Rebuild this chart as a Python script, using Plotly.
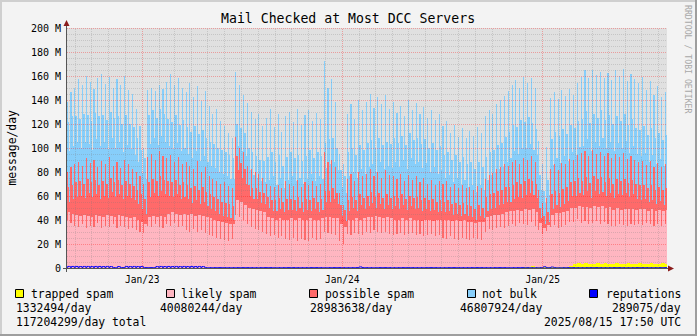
import plotly.graph_objects as go
import pandas as pd
import math

# ---------------- data (million messages/day, one value per week) ----------------
# each week is drawn as three columns: mid-week peak, rest of the working week, weekend
week_start = "2022-08-15"

likely_base = [
    46, 45, 44, 43, 44, 43, 42, 44, 43, 42,
    44, 43, 42, 44, 43, 42, 41, 42, 40, 38,
    36, 42, 43, 42, 43, 42, 45, 46, 45, 44,
    45, 44, 45, 43, 44, 43, 42, 41, 40, 39,
    38, 37, 36, 36, 56, 55, 52, 50, 49, 48,
    47, 46, 42, 41, 40, 41, 40, 40, 41, 40,
    41, 40, 40, 41, 40, 40, 41, 42, 42, 41,
    41, 36, 34, 40, 40, 41, 40, 41, 42, 42,
    43, 42, 41, 42, 41, 40, 40, 41, 40, 41,
    40, 40, 39, 40, 40, 39, 40, 40, 40, 40,
    39, 40, 39, 40, 38, 38, 37, 38, 38, 42,
    43, 44, 44, 45, 46, 47, 47, 48, 47, 48,
    47, 48, 46, 37, 33, 35, 44, 45, 45, 46,
    47, 48, 47, 48, 47, 47, 46, 48, 47, 48,
    46, 47, 45, 46, 45, 46, 45, 46, 45, 45,
    46, 44, 45, 44, 45, 44, 45,
]
likely_peak = [
    40, 37, 35, 34, 36, 33, 35, 34, 37, 33,
    35, 34, 36, 33, 35, 34, 32, 33, 31, 30,
    29, 35, 34, 36, 34, 33, 36, 35, 37, 34,
    35, 31, 30, 32, 30, 31, 29, 27, 26, 25,
    24, 23, 22, 24, 44, 42, 40, 36, 34, 32,
    31, 30, 28, 26, 27, 25, 26, 24, 23, 25,
    22, 24, 23, 22, 25, 23, 24, 30, 29, 28,
    27, 22, 20, 28, 27, 29, 28, 27, 30, 29,
    31, 30, 29, 30, 28, 27, 28, 29, 27, 28,
    29, 27, 28, 26, 27, 28, 26, 27, 25, 24,
    26, 24, 23, 25, 24, 23, 25, 24, 23, 30,
    32, 31, 33, 34, 33, 35, 36, 35, 37, 36,
    35, 37, 34, 31, 28, 30, 34, 35, 33, 34,
    35, 36, 35, 37, 34, 35, 33, 34, 35, 33,
    34, 33, 32, 31, 33, 32, 31, 33, 32, 33,
    32, 34, 33, 32, 33, 31, 33,
]
possible_peak = [
    40, 47, 51, 54, 49, 58, 52, 56, 47, 56,
    51, 58, 49, 55, 48, 56, 54, 49, 49, 46,
    41, 57, 61, 54, 63, 60, 55, 59, 51, 58,
    51, 57, 55, 50, 59, 49, 55, 49, 48, 47,
    46, 48, 46, 42, 65, 58, 56, 49, 48, 48,
    47, 45, 42, 42, 40, 44, 40, 48, 47, 43,
    51, 43, 48, 47, 47, 45, 46, 66, 59, 62,
    57, 40, 32, 46, 51, 43, 52, 49, 48, 53,
    45, 50, 46, 51, 49, 49, 46, 49, 45, 49,
    44, 49, 43, 49, 43, 45, 43, 45, 45, 48,
    41, 46, 43, 44, 42, 44, 40, 44, 43, 44,
    45, 48, 49, 50, 53, 50, 52, 55, 49, 55,
    54, 55, 53, 33, 26, 28, 48, 51, 48, 53,
    51, 53, 52, 53, 58, 59, 57, 61, 56, 60,
    55, 59, 56, 60, 56, 60, 56, 57, 54, 51,
    54, 48, 52, 49, 51, 49, 50,
]
possible_mid = [
    21, 24, 27, 29, 26, 31, 29, 29, 26, 30,
    26, 32, 29, 29, 26, 30, 29, 26, 25, 23,
    21, 29, 31, 30, 33, 31, 27, 25, 28, 25,
    26, 25, 21, 25, 21, 24, 21, 20, 19, 18,
    17, 17, 17, 15, 37, 32, 30, 19, 17, 18,
    16, 16, 17, 15, 16, 17, 15, 17, 16, 16,
    18, 15, 17, 15, 18, 15, 16, 22, 22, 25,
    21, 16, 14, 16, 19, 15, 21, 17, 18, 21,
    16, 20, 17, 19, 17, 20, 18, 20, 17, 19,
    18, 19, 17, 18, 16, 18, 15, 16, 15, 16,
    14, 14, 13, 14, 14, 13, 12, 14, 12, 17,
    18, 18, 20, 20, 21, 20, 22, 23, 23, 24,
    26, 23, 23, 12, 10, 11, 17, 19, 17, 19,
    20, 22, 22, 23, 22, 25, 21, 25, 23, 24,
    22, 24, 22, 24, 24, 25, 22, 24, 21, 20,
    20, 19, 20, 18, 19, 17, 18,
]
possible_low = [
    9, 12, 15, 17, 14, 19, 17, 17, 14, 18,
    14, 20, 17, 17, 14, 18, 17, 14, 13, 11,
    9, 17, 19, 18, 21, 19, 15, 13, 16, 13,
    14, 13, 9, 13, 9, 12, 9, 8, 7, 6,
    5, 5, 5, 4, 25, 20, 18, 10, 8, 9,
    7, 7, 8, 6, 7, 8, 6, 8, 7, 7,
    9, 6, 8, 6, 9, 6, 7, 13, 13, 16,
    12, 7, 5, 7, 10, 6, 12, 8, 9, 12,
    7, 11, 8, 10, 8, 11, 9, 11, 8, 10,
    9, 10, 8, 9, 7, 9, 6, 7, 6, 7,
    5, 5, 4, 5, 5, 4, 3, 5, 3, 5,
    6, 6, 8, 8, 9, 8, 10, 11, 11, 12,
    14, 11, 11, 4, 3, 3, 5, 7, 5, 7,
    8, 10, 10, 11, 10, 13, 9, 13, 11, 12,
    10, 12, 10, 12, 12, 13, 10, 12, 9, 8,
    8, 7, 8, 6, 7, 5, 6,
]
notbulk_peak = [
    58, 62, 64, 69, 67, 69, 68, 59, 74, 72,
    67, 67, 65, 69, 69, 70, 62, 63, 52, 42,
    30, 56, 55, 57, 55, 56, 64, 67, 64, 66,
    64, 58, 69, 60, 62, 59, 63, 59, 54, 60,
    52, 47, 44, 42, 54, 52, 48, 52, 48, 44,
    50, 43, 55, 64, 50, 59, 47, 54, 60, 53,
    59, 52, 56, 62, 50, 61, 54, 76, 62, 67,
    54, 33, 34, 54, 58, 52, 60, 55, 60, 63,
    57, 62, 61, 63, 55, 62, 55, 57, 54, 63,
    58, 61, 57, 59, 55, 58, 54, 56, 48, 50,
    45, 49, 43, 47, 42, 47, 45, 49, 46, 52,
    54, 49, 54, 56, 57, 62, 64, 66, 64, 67,
    64, 65, 62, 41, 32, 42, 59, 60, 59, 61,
    57, 58, 54, 60, 64, 67, 65, 67, 66, 67,
    65, 67, 65, 70, 67, 70, 65, 68, 68, 66,
    70, 63, 67, 60, 64, 59, 60,
]
notbulk_mid = [
    54, 57, 55, 52, 58, 53, 51, 56, 57, 55,
    53, 55, 54, 53, 51, 55, 50, 49, 43, 37,
    34, 56, 57, 53, 56, 55, 52, 50, 54, 50,
    52, 48, 47, 50, 46, 48, 45, 44, 44, 43,
    43, 42, 41, 40, 27, 29, 30, 31, 30, 27,
    27, 27, 33, 40, 32, 36, 30, 35, 39, 35,
    35, 34, 36, 42, 33, 41, 36, 40, 43, 42,
    38, 29, 28, 40, 41, 38, 41, 40, 44, 43,
    41, 46, 44, 44, 45, 48, 46, 49, 45, 52,
    48, 49, 47, 49, 44, 47, 43, 45, 39, 40,
    37, 40, 36, 38, 34, 37, 33, 36, 34, 33,
    35, 36, 38, 39, 42, 46, 50, 46, 53, 49,
    52, 48, 46, 28, 21, 27, 46, 49, 47, 50,
    44, 47, 44, 48, 52, 55, 50, 52, 51, 56,
    51, 53, 50, 53, 50, 54, 48, 51, 47, 46,
    49, 44, 48, 43, 45, 42, 44,
]
notbulk_low = [
    42, 44, 46, 40, 47, 41, 39, 46, 44, 45,
    41, 45, 41, 44, 39, 42, 41, 38, 35, 30,
    29, 44, 46, 42, 46, 44, 41, 40, 43, 40,
    41, 38, 37, 41, 36, 38, 37, 36, 36, 35,
    35, 34, 33, 34, 20, 22, 23, 21, 20, 18,
    18, 18, 23, 29, 22, 26, 20, 25, 28, 25,
    25, 24, 26, 31, 23, 30, 26, 28, 31, 31,
    28, 24, 23, 29, 30, 28, 30, 29, 33, 32,
    30, 35, 33, 33, 34, 37, 35, 38, 34, 40,
    37, 38, 36, 38, 33, 36, 32, 34, 29, 30,
    27, 30, 26, 28, 24, 27, 23, 26, 24, 26,
    28, 29, 30, 31, 33, 36, 40, 36, 42, 39,
    41, 38, 36, 23, 18, 22, 36, 39, 37, 40,
    34, 37, 34, 38, 41, 44, 39, 41, 40, 45,
    40, 42, 39, 42, 39, 43, 37, 40, 37, 36,
    38, 34, 37, 33, 35, 32, 34,
]
trapped = [
    0.3, 0.4, 0.3, 0.3, 0.4, 0.3, 0.3, 0.4, 0.3, 0.3,
    0.4, 0.3, 0.3, 0.4, 0.3, 0.3, 0.4, 0.3, 0.3, 0.4,
    0.3, 0.3, 0.4, 0.3, 0.3, 0.4, 0.3, 0.3, 0.4, 0.3,
    0.3, 0.4, 0.3, 0.3, 0.4, 0.3, 0.3, 0.4, 0.3, 0.3,
    0.4, 0.3, 0.3, 0.4, 0.3, 0.3, 0.4, 0.3, 0.3, 0.4,
    0.3, 0.3, 0.4, 0.3, 0.3, 0.4, 0.3, 0.3, 0.4, 0.3,
    0.3, 0.4, 0.3, 0.3, 0.4, 0.3, 0.3, 0.4, 0.3, 0.3,
    0.4, 0.3, 0.3, 0.4, 0.3, 0.3, 0.4, 0.3, 0.3, 0.4,
    0.3, 0.3, 0.4, 0.3, 0.3, 0.4, 0.3, 0.3, 0.4, 0.3,
    0.3, 0.4, 0.3, 0.3, 0.4, 0.3, 0.3, 0.4, 0.3, 0.3,
    0.4, 0.3, 0.3, 0.4, 0.3, 0.3, 0.4, 0.3, 0.3, 0.4,
    0.3, 0.3, 0.4, 0.3, 0.3, 0.4, 0.3, 0.3, 0.4, 0.8,
    1.2, 1.5, 1.0, 0.6, 0.5, 0.6, 0.5, 0.5, 0.6, 0.5,
    0.5, 2.0, 3.4, 3.8, 3.5, 3.9, 3.6, 3.3, 3.8, 3.5,
    4.0, 3.6, 3.4, 3.9, 3.6, 3.5, 3.8, 3.4, 3.7, 4.0,
    3.5, 3.6, 3.8, 3.4, 3.7, 3.9, 3.5,
]
rep_base = [
    1.3, 1.3, 1.3, 1.2, 1.3, 1.3, 1.2, 1.3, 1.3, 1.2,
    1.3, 1.2, 0.3, 1.2, 0.3, 1.3, 1.2, 1.3, 1.2, 1.3,
    0.3, 0.3, 0.3, 1.2, 1.3, 1.2, 1.3, 1.2, 1.3, 1.2,
    1.3, 1.2, 1.3, 1.2, 1.3, 1.2, 0.3, 0.3, 0.3, 0.3,
    0.3, 0.3, 0.3, 0.3, 0.3, 0.3, 0.3, 0.3, 0.3, 0.3,
    0.3, 0.3, 0.3, 0.3, 0.3, 0.3, 0.3, 0.3, 0.3, 0.3,
    0.3, 0.3, 0.3, 0.3, 0.3, 0.3, 0.3, 0.3, 0.3, 0.3,
    0.3, 0.3, 0.3, 0.3, 0.3, 0.3, 0.9, 0.3, 0.3, 0.3,
    0.3, 0.3, 0.3, 0.3, 0.3, 0.3, 0.3, 0.3, 0.3, 0.3,
    0.3, 0.3, 0.3, 0.3, 0.3, 0.3, 0.3, 0.3, 0.3, 0.3,
    0.3, 0.3, 0.3, 0.3, 0.3, 0.3, 0.3, 0.3, 0.3, 0.3,
    0.3, 0.3, 0.3, 0.3, 0.3, 0.3, 0.3, 0.3, 0.3, 0.3,
    0.3, 0.3, 0.3, 0.3, 1.0, 0.3, 0.8, 0.3, 0.3, 0.3,
    0.3, 0.3, 0.3, 0.3, 0.3, 0.3, 0.3, 0.3, 0.3, 0.3,
    0.3, 0.3, 0.3, 0.3, 0.3, 0.3, 0.3, 0.3, 0.3, 0.3,
    0.3, 0.3, 0.3, 0.3, 0.3, 0.3, 0.3,
]
rep_peak = [
    0.3, 0.3, 0.3, 0.3, 0.3, 0.3, 0.3, 0.3, 0.3, 0.3,
    0.3, 0.3, 0.3, 0.3, 0.3, 0.3, 0.3, 0.3, 0.3, 0.3,
    0.3, 0.3, 0.3, 0.3, 0.3, 0.3, 0.3, 0.3, 0.3, 0.3,
    0.3, 0.3, 0.3, 0.3, 0.3, 0.3, 0.3, 0.3, 0.3, 0.3,
    0.3, 0.3, 0.3, 0.3, 0.3, 0.3, 0.3, 0.3, 0.3, 0.3,
    0.3, 0.3, 0.3, 0.3, 0.3, 0.3, 0.3, 0.3, 0.3, 0.3,
    0.3, 0.3, 0.3, 0.3, 0.3, 0.3, 0.3, 0.3, 0.3, 0.3,
    0.3, 0.3, 0.3, 0.3, 0.3, 0.3, 0.3, 0.3, 0.3, 0.3,
    0.3, 0.3, 0.3, 0.3, 0.3, 0.3, 0.3, 0.3, 0.3, 0.3,
    0.3, 0.3, 0.3, 0.3, 0.3, 0.3, 0.3, 0.3, 0.3, 0.3,
    0.3, 0.3, 0.3, 0.3, 0.3, 0.3, 0.3, 0.3, 0.3, 0.3,
    0.3, 0.3, 0.3, 0.3, 0.3, 0.3, 0.3, 0.3, 0.3, 0.3,
    0.3, 0.3, 0.3, 0.3, 0.3, 0.3, 0.3, 0.3, 0.3, 0.3,
    0.3, 0.3, 0.3, 0.3, 0.3, 0.3, 0.3, 0.3, 0.3, 0.3,
    0.3, 0.3, 0.3, 0.3, 0.3, 0.3, 0.3, 0.3, 0.3, 0.3,
    0.3, 0.3, 0.3, 0.3, 0.3, 0.3, 0.3,
]

legend_names = ["trapped spam", "likely spam", "possible spam", "not bulk", "reputations"]
legend_rates = ["1332494/day", "40080244/day", "28983638/day", "46807924/day", "289075/day"]
total_rate = "117204299/day total"
stamp = "2025/08/15 17:50 UTC"
title = "Mail Checked at Most DCC Servers"
y_title = "message/day"
watermark = "RRDTOOL / TOBI OETIKER"
y_tickvals = [0, 20, 40, 60, 80, 100, 120, 140, 160, 180, 200]
y_ticktext = ["0", "20 M", "40 M", "60 M", "80 M", "100 M", "120 M", "140 M", "160 M", "180 M", "200 M"]
x_tickvals = ["2023-01-01", "2024-01-01", "2025-01-01"]
x_ticktext = ["Jan/23", "Jan/24", "Jan/25"]
x_start, x_end = "2022-08-16 17:50", "2025-08-15 17:50"

# ---------------- styling ----------------
FONT = "DejaVu Sans Mono"
C_TRAP, C_LIKELY, C_POSS, C_NB, C_REP = "#FFFF00", "#FFB6C1", "#FF6A6A", "#87CEFA", "#0000FF"
BACK, CANVAS = "#F3F3F3", "#E0E0E0"
GRID_MINOR, GRID_MAJOR = "rgba(120,120,120,0.26)", "rgba(255,0,0,0.30)"
L, T, W, H = 67, 28, 600, 240
FIG_W, FIG_H = 697, 336


def px(x):
    return (x - L) / W


def py(y):
    return (T + H - y) / H


def opaque(c):
    c = c.lstrip("#")
    return "rgba(%d,%d,%d,0.999)" % (int(c[0:2], 16), int(c[2:4], 16), int(c[4:6], 16))


n = len(likely_base)
t0 = pd.Timestamp(week_start)
DAY = 86400000
xs, ws, xl = [], [], []
for i in range(n):
    w = t0 + pd.Timedelta(days=7 * i)
    # columns: days [1,3) peak, [3,6) rest of week, [6,8) weekend
    xs += [w + pd.Timedelta(days=2), w + pd.Timedelta(days=4.5), w + pd.Timedelta(days=7)]
    ws += [2 * DAY, 3 * DAY, 2 * DAY]
    xl += [w + pd.Timedelta(days=1), w + pd.Timedelta(days=3), w + pd.Timedelta(days=6)]


def inter(pk, md, lo):
    out = []
    for a, b, c in zip(pk, md, lo):
        out += [a, b, c]
    return out


fig = go.Figure()
for vals, col in [
    (inter(trapped, trapped, trapped), C_TRAP),
    (inter(likely_peak, likely_base, likely_base), C_LIKELY),
    (inter(possible_peak, possible_mid, possible_low), C_POSS),
    (inter(notbulk_peak, notbulk_mid, notbulk_low), C_NB),
]:
    fig.add_trace(go.Bar(x=xs, y=vals, width=ws, showlegend=False, hoverinfo="skip",
                         marker=dict(color=opaque(col), line=dict(width=0))))

fig.add_trace(go.Scatter(x=xl, y=inter(rep_peak, rep_base, rep_base), mode="lines", showlegend=False,
                         line=dict(color=C_REP, width=1, shape="hv"), hoverinfo="skip"))

shapes = []
# grid (drawn above the data, as rrdtool does)
for v in range(5, 205, 5):
    major = v % 20 == 0
    yp = (1.2 * v - 0.5) / H
    shapes.append(dict(type="line", xref="paper", yref="paper", x0=0, x1=1, y0=yp, y1=yp, layer="above",
                       line=dict(color=GRID_MAJOR if major else GRID_MINOR, width=1, dash="1px,1px")))
ts, te = pd.Timestamp(x_start), pd.Timestamp(x_end)
for m in pd.date_range("2022-09-01", "2025-08-01", freq="MS"):
    xp = L + (m - ts) / (te - ts) * W
    col = math.floor(xp) + 0.5
    major = m.month == 1
    shapes.append(dict(type="line", xref="paper", yref="paper", x0=px(col), x1=px(col), y0=0, y1=1,
                       layer="above",
                       line=dict(color=GRID_MAJOR if major else GRID_MINOR, width=1, dash="1px,1px")))

# axes and arrows
AX = "#555555"
ARROW = "#8A1C1C"
shapes.append(dict(type="line", xref="paper", yref="paper", x0=px(66.5), x1=px(66.5),
                   y0=py(272), y1=py(25), layer="above", line=dict(color=AX, width=1)))
shapes.append(dict(type="line", xref="paper", yref="paper", x0=px(63), x1=px(668),
                   y0=py(268.5), y1=py(268.5), layer="above", line=dict(color=AX, width=1)))
shapes.append(dict(type="path", xref="paper", yref="paper", layer="above",
                   path="M %f %f L %f %f L %f %f Z" % (px(63.5), py(26), px(69.5), py(26), px(66.5), py(20)),
                   fillcolor=ARROW, line=dict(width=0)))
shapes.append(dict(type="path", xref="paper", yref="paper", layer="above",
                   path="M %f %f L %f %f L %f %f Z" % (px(668), py(265.5), px(668), py(271.5), px(674), py(268.5)),
                   fillcolor=ARROW, line=dict(width=0)))

# frame shading
shapes += [
    dict(type="rect", xref="paper", yref="paper", x0=px(0), x1=px(FIG_W), y0=py(2), y1=py(0),
         fillcolor="#CFCFCF", line=dict(width=0), layer="above"),
    dict(type="rect", xref="paper", yref="paper", x0=px(0), x1=px(2), y0=py(FIG_H), y1=py(0),
         fillcolor="#CFCFCF", line=dict(width=0), layer="above"),
    dict(type="rect", xref="paper", yref="paper", x0=px(0), x1=px(FIG_W), y0=py(FIG_H), y1=py(FIG_H - 2),
         fillcolor="#9E9E9E", line=dict(width=0), layer="above"),
    dict(type="rect", xref="paper", yref="paper", x0=px(FIG_W - 2), x1=px(FIG_W), y0=py(FIG_H), y1=py(0),
         fillcolor="#9E9E9E", line=dict(width=0), layer="above"),
]

# legend boxes
box_x = [15.5, 166.5, 309.5, 467.5, 589.5]
for bx, col in zip(box_x, [C_TRAP, C_LIKELY, C_POSS, C_NB, C_REP]):
    shapes.append(dict(type="rect", xref="paper", yref="paper", x0=px(bx), x1=px(bx + 8),
                       y0=py(297.5), y1=py(289.5), fillcolor=col, layer="above",
                       line=dict(color="#000000", width=1)))

ann = []


def text(s, x, y, size, anchor="left", angle=0, color="#000000"):
    ann.append(dict(text=s, x=px(x), y=py(y), xref="paper", yref="paper", showarrow=False,
                    xanchor=anchor, yanchor="middle", textangle=angle, borderpad=0, borderwidth=0,
                    font=dict(family=FONT, size=size, color=color)))


text(title, 347.5, 19, 13.2, anchor="center")
text(y_title, 11.5, 148, 11.4, anchor="center", angle=-90)
text(watermark, 688, 59, 8.2, anchor="center", angle=90, color="#A8A8A8")
name_x = [30.5, 180.5, 324.5, 481.5]
for nm, x in zip(legend_names[:4], name_x):
    text(nm, x, 294.3, 11.4)
text(legend_names[4], 680.5, 294.3, 11.4, anchor="right")
rate_x = [16.3, 159.8, 309.8, 459.8]
for r, x in zip(legend_rates[:4], rate_x):
    text(r, x, 308.3, 11.4)
text(legend_rates[4], 680.5, 308.3, 11.4, anchor="right")
text(total_rate, 16.3, 321.7, 11.4)
text(stamp, 680.5, 321.7, 11.4, anchor="right")

fig.update_layout(
    width=FIG_W, height=FIG_H, autosize=False,
    margin=dict(l=L, r=FIG_W - L - W, t=T, b=FIG_H - T - H, pad=0),
    paper_bgcolor=BACK, plot_bgcolor=CANVAS,
    barmode="stack", bargap=0, bargroupgap=0,
    shapes=shapes, annotations=ann,
    font=dict(family=FONT, color="#000000"),
    xaxis=dict(type="date", range=[x_start, x_end], showgrid=False, zeroline=False, showline=False,
               tickmode="array", tickvals=x_tickvals, ticktext=x_ticktext, ticks="",
               tickfont=dict(family=FONT, size=9.6), ticklabelstandoff=4),
    yaxis=dict(range=[0, 200], showgrid=False, zeroline=False, showline=False,
               tickmode="array", tickvals=y_tickvals, ticktext=y_ticktext, ticks="",
               tickfont=dict(family=FONT, size=10), ticklabelstandoff=5),
)

fig.write_html("out.html")
